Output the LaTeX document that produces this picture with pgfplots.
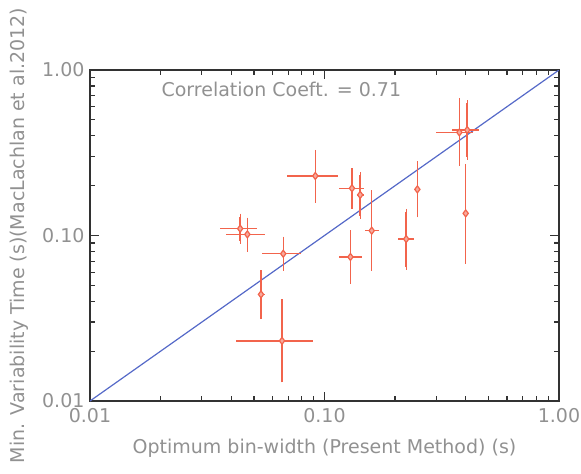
\documentclass[border=0pt]{standalone}
\usepackage{fontspec}
\setmainfont{DejaVu Sans}
\usepackage{pgfplots}
\usepackage{pgfplotstable}
\pgfplotsset{compat=1.18}
\usetikzlibrary{calc}
\definecolor{txtgray}{RGB}{145,145,145}
\definecolor{axgray}{RGB}{50,50,50}
\definecolor{ptred}{RGB}{242,100,76}
\definecolor{lnblue}{RGB}{85,105,200}
\pgfplotstableread{
x y xp xm yp ym
0.0437 0.110 0.0080 0.0079 0.020 0.017
0.0469 0.1016 0.0088 0.0090 0.0214 0.0184
0.0667 0.0776 0.0124 0.0127 0.0168 0.0137
0.0536 0.0441 0.0019 0.0018 0.0150 0.0115
0.0659 0.0231 0.0237 0.0240 0.0165 0.0096
0.0914 0.229 0.0232 0.0224 0.087 0.065
0.131 0.193 0.016 0.0153 0.052 0.042
0.142 0.176 0.005 0.005 0.056 0.044
0.129 0.0742 0.015 0.0133 0.0288 0.0211
0.159 0.107 0.012 0.010 0.073 0.0431
0.223 0.0952 0.0185 0.0165 0.0438 0.0304
0.249 0.190 0.007 0.007 0.080 0.056
0.376 0.420 0.054 0.077 0.230 0.145
0.406 0.434 0.049 0.056 0.195 0.135
0.400 0.136 0.008 0.008 0.124 0.0657
}\datatable
\newcommand{\lblfont}{\fontsize{19}{22}\selectfont}
\begin{document}
\begin{tikzpicture}
\begin{axis}[
  name=ax,
  xmode=log, ymode=log,
  scale only axis,
  width=469pt, height=331pt,
  xmin=0.01, xmax=1, ymin=0.01, ymax=1,
  xticklabel={\pgfmathparse{exp(\tick)}\pgfmathprintnumber[fixed,fixed zerofill,precision=2]{\pgfmathresult}},
  yticklabel={\pgfmathparse{exp(\tick)}\pgfmathprintnumber[fixed,fixed zerofill,precision=2]{\pgfmathresult}},
  tick align=inside,
  tickwidth=9pt, subtickwidth=5pt,
  tick style={color=axgray, line width=1.2pt},
  axis line style={axgray, line width=1.2pt},
  tick label style={txtgray, font=\lblfont},
  /pgf/number format/assume math mode=true,
  xticklabel style={yshift=-4pt},
  yticklabel style={xshift=-2pt},
  xlabel={Optimum bin-width (Present Method) (s)},
  ylabel={Min. Variability Time (s)(MacLachlan et al.2012)},
  label style={txtgray, font=\lblfont},
  xlabel style={at={(axis description cs:0.5,-0.142)}, anchor=center},
  ylabel style={at={(axis description cs:-0.1514,0.5)}, anchor=center},
]
\addplot[lnblue, line width=1.2pt] coordinates {(0.01,0.01) (1,1)};
\addplot[only marks, ptred, mark=none,
  error bars/.cd, x dir=both, x explicit,
  error bar style={ptred, line width=1.5pt},
  error mark=none]
  table[x=x, y=y, x error plus=xp, x error minus=xm] {\datatable};
\addplot[only marks, ptred, mark=diamond*, mark size=3.5pt,
  mark options={fill=ptred!55, draw=ptred, line width=1.2pt},
  error bars/.cd, y dir=both, y explicit,
  error bar style={ptred, line width=1.5pt},
  error mark options={ptred, line width=1.2pt, mark size=3pt}]
  table[x=x, y=y, y error plus=yp, y error minus=ym] {\datatable};
\pgfplotsinvokeforeach{0.02,0.03,0.04,0.05,0.06,0.07,0.08,0.09,0.2,0.3,0.4,0.5,0.6,0.7,0.8,0.9}{
  \draw[axgray, line width=1.2pt] (axis cs:#1,0.01) -- ([yshift=5pt]axis cs:#1,0.01);
  \draw[axgray, line width=1.2pt] (axis cs:#1,1) -- ([yshift=-5pt]axis cs:#1,1);
  \draw[axgray, line width=1.2pt] (axis cs:0.01,#1) -- ([xshift=5pt]axis cs:0.01,#1);
  \draw[axgray, line width=1.2pt] (axis cs:1,#1) -- ([xshift=-5pt]axis cs:1,#1);
}
\draw[axgray, line width=1.2pt] (axis cs:0.1,0.01) -- ([yshift=9pt]axis cs:0.1,0.01);
\draw[axgray, line width=1.2pt] (axis cs:0.1,1) -- ([yshift=-9pt]axis cs:0.1,1);
\draw[axgray, line width=1.2pt] (axis cs:0.01,0.1) -- ([xshift=9pt]axis cs:0.01,0.1);
\draw[axgray, line width=1.2pt] (axis cs:1,0.1) -- ([xshift=-9pt]axis cs:1,0.1);
\node[txtgray, anchor=center, font=\lblfont] at (rel axis cs:0.408,0.94) {Correlation Coeft. = 0.71};
\end{axis}
\pgfresetboundingbox
\path ($(ax.south west)+(-90pt,-72pt)$) rectangle ($(ax.north east)+(22pt,70pt)$);
\end{tikzpicture}
\end{document}
